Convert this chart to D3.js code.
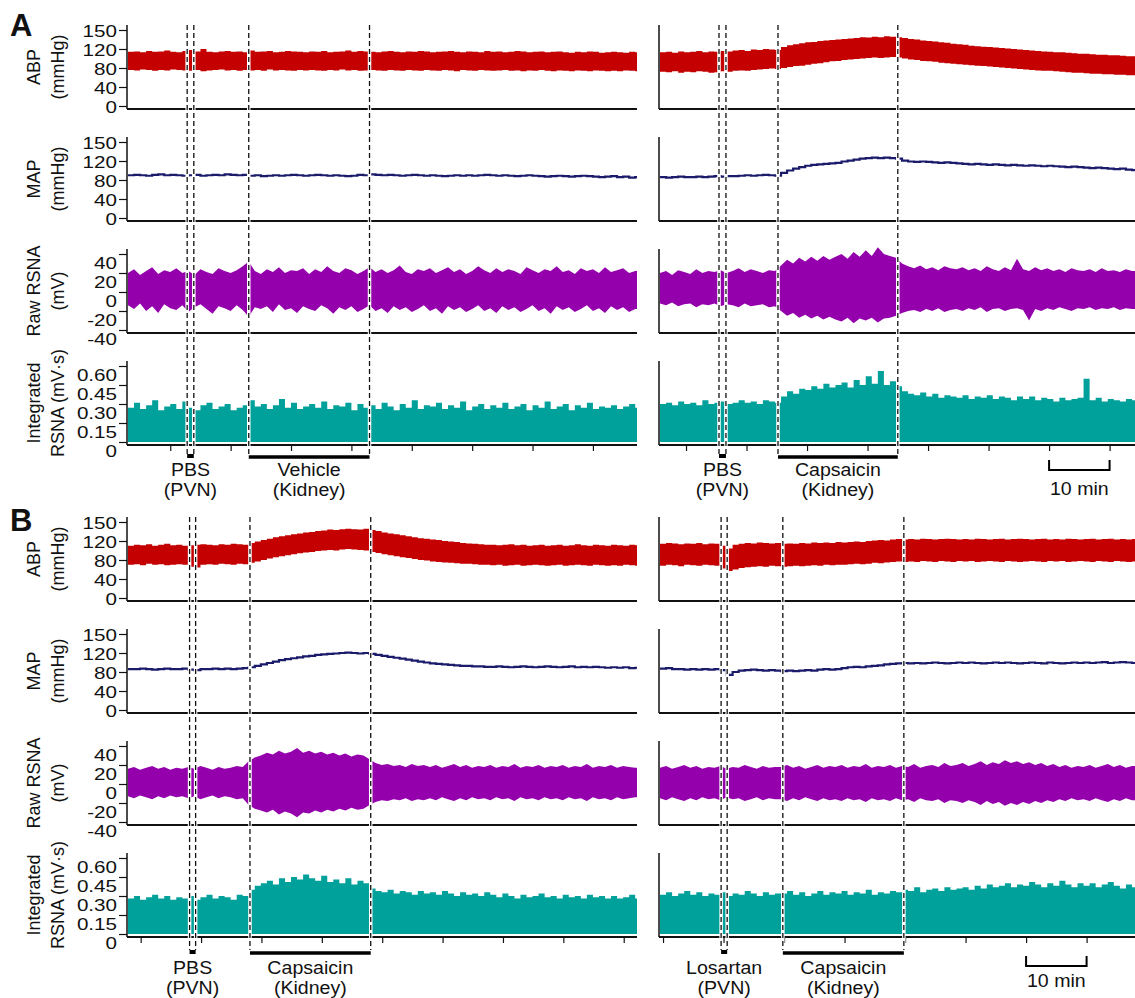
<!DOCTYPE html>
<html>
<head>
<meta charset="utf-8">
<script src="https://cdn.jsdelivr.net/npm/d3@7"></script>
<style>
  body { margin: 0; background: #fff; }
  svg text { font-family: Arial, "Liberation Sans", sans-serif; fill: #111; }
</style>
</head>
<body>
<svg id="fig" width="1135" height="998"></svg>
<script>
// ── Channel axes ────────────────────────────────────────────────────────────
// ABP / MAP ticks sit evenly spaced, the top one is printed "150" in the original.
var pressureTicks  = [0, 40, 80, 120, 160];
var pressureLabels = ["0", "40", "80", "120", "150"];
var rawTicks       = [-40, -20, 0, 20, 40];
var rawLabels      = ["-40", "-20", "0", "20", "40"];
var intTicks       = [0, 0.15, 0.30, 0.45, 0.60];
var intLabels      = ["0", "0.15", "0.30", "0.45", "0.60"];

// ── Traces, one value per minute ────────────────────────────────────────────
// A, left: PBS (PVN) then vehicle (kidney)
var abpHiAL = [114,115,113,116,114,115,117,114,113,116, 118,115,120,114,113,115,116,114,115,113,
  117,114,115,116,113,114,116,115,114,113, 115,114,116,113,114,115,117,114,116,115,
  114,113,115,116,114,113,115,114,116,115, 113,114,115,116,114,113,115,114,113,116,
  114,115,113,114,116,115,113,114,115,113, 114,115,113,112,114,113,115,114,112,113, 114,113,112,114,113];
var abpLoAL = [76,75,77,76,74,76,75,77,76,75, 74,76,73,75,76,77,75,76,74,76,
  75,76,74,77,75,76,75,74,76,75, 76,75,74,76,75,77,75,76,74,75,
  76,75,74,76,75,74,76,75,74,76, 75,74,76,75,73,76,75,74,76,75,
  74,75,76,74,75,73,75,74,76,74, 73,75,74,73,75,74,73,75,74,73, 74,73,75,74,73];
var mapAL = [90,91,90,89,91,92,90,91,90,89, 90,91,89,90,91,90,92,91,90,91,
  89,90,88,89,90,89,90,91,90,89, 90,91,90,89,90,89,88,89,91,90,
  92,91,90,91,90,89,90,91,90,89, 90,89,88,89,90,89,90,89,90,91,
  90,89,90,89,88,89,90,89,88,87, 88,89,88,87,88,89,88,87,86,87, 88,86,87,85,86];
var rawHiAL = [20,24,18,22,26,19,23,21,25,20, 22,18,24,21,19,25,22,20,23,27,
  32,22,19,24,21,26,20,23,22,25, 19,24,21,27,22,20,25,23,19,22,
  26,21,24,20,23,28,21,19,24,22, 25,20,23,26,21,24,19,22,27,23,
  20,25,21,24,22,19,26,23,20,24, 22,27,21,23,19,25,22,24,20,26, 21,23,25,20,22];
var rawLoAL = [-14,-18,-12,-20,-15,-22,-13,-17,-19,-14, -21,-16,-13,-18,-23,-15,-17,-20,-14,-19,
  -26,-16,-18,-15,-21,-13,-19,-17,-22,-15, -18,-20,-14,-17,-23,-16,-19,-15,-21,-18,
  -14,-20,-17,-22,-15,-19,-16,-21,-18,-14, -20,-17,-23,-15,-19,-16,-21,-18,-14,-20,
  -17,-22,-15,-19,-16,-21,-18,-14,-20,-17, -23,-15,-19,-16,-21,-18,-14,-20,-17,-22, -15,-19,-16,-21,-18];
var intAL = [.27,.31,.26,.29,.33,.25,.28,.30,.26,.32, .27,.25,.29,.31,.26,.28,.30,.25,.27,.29,
  .33,.28,.30,.26,.29,.34,.27,.31,.26,.28, .30,.27,.32,.26,.29,.28,.31,.25,.30,.27,
  .29,.26,.31,.28,.25,.30,.27,.33,.26,.29, .28,.31,.26,.29,.27,.32,.25,.28,.30,.26,
  .29,.27,.31,.26,.28,.30,.25,.29,.27,.32, .26,.28,.30,.25,.29,.27,.31,.26,.28,.27, .29,.26,.28,.30,.27];

// A, right: PBS (PVN) then capsaicin (kidney)
var abpHiAR = [113,114,112,115,113,114,116,113,115,114, 116,115,117,118,116,119,118,120,119,118,
  124,128,130,132,134,135,137,138,139,140, 141,142,143,145,144,146,145,147,146,145,
  143,141,140,138,137,136,134,133,131,130, 129,127,126,125,124,123,122,121,120,119,
  118,117,116,115,114,113,113,112,111,110, 110,109,108,108,107,107,106,105,105];
var abpLoAR = [72,71,73,70,72,71,73,72,70,71, 73,72,74,75,74,76,77,78,79,78,
  80,82,84,85,87,89,90,92,94,95, 97,98,99,100,101,102,101,102,103,102,
  100,98,97,95,94,93,91,90,89,88, 87,86,85,84,83,82,81,80,79,78,
  77,76,75,74,74,73,72,71,70,70, 69,68,68,67,67,66,66,65,65];
var mapAR = [86,85,86,87,86,86,87,86,87,88, 87,88,88,89,90,89,90,91,90,89,
  95,100,104,107,110,112,113,114,115,116, 119,121,123,125,126,127,126,127,126,125,
  121,119,118,119,118,117,116,117,116,115, 114,113,114,113,112,113,112,111,112,111,
  110,111,110,109,110,109,108,107,108,107, 106,105,106,105,104,103,104,102,101];
var rawHiAR = [20,22,18,23,21,19,24,20,22,21, 23,20,22,25,21,24,22,20,23,22,
  28,34,30,36,32,37,33,38,34,37, 40,35,42,37,44,38,47,40,38,36,
  30,27,25,28,24,26,23,27,25,24, 26,23,25,22,27,24,22,26,23,35,
  24,22,26,23,25,22,24,21,25,23, 22,24,21,25,22,23,21,24,22];
var rawLoAR = [-12,-14,-11,-15,-13,-12,-16,-13,-14,-12, -15,-13,-14,-16,-12,-15,-14,-13,-16,-15,
  -20,-25,-22,-27,-24,-28,-25,-29,-26,-29, -31,-27,-33,-28,-30,-27,-32,-28,-27,-25,
  -22,-20,-19,-21,-18,-20,-17,-21,-19,-18, -20,-17,-19,-16,-21,-18,-17,-20,-18,-17,
  -19,-30,-18,-20,-17,-19,-16,-18,-20,-17, -18,-16,-19,-17,-18,-16,-19,-17,-18];
var intAR = [.30,.31,.29,.32,.30,.31,.29,.33,.30,.31, .32,.30,.31,.33,.31,.32,.30,.33,.32,.31,
  .36,.40,.38,.42,.41,.44,.42,.46,.43,.45, .47,.43,.49,.45,.52,.46,.56,.45,.48,.44,
  .40,.38,.37,.39,.36,.38,.35,.37,.36,.35, .37,.34,.36,.35,.37,.34,.36,.35,.33,.36,
  .34,.36,.33,.35,.34,.32,.35,.33,.34,.35, .50,.33,.35,.32,.34,.33,.32,.34,.33];

// B, left: PBS (PVN) then capsaicin (kidney)
var abpHiBL = [110,112,111,113,110,112,114,111,112,110, 111,112,113,112,111,113,112,114,113,112,
  116,119,122,125,128,130,132,134,136,138, 139,141,142,144,143,145,146,145,144,146,
  143,141,138,136,134,132,130,128,126,125, 123,122,120,119,118,116,115,114,113,112,
  112,111,112,113,111,112,110,111,112,110, 111,112,110,111,113,111,110,112,111,110, 112,111,110,112,111];
var abpLoBL = [70,71,69,72,70,71,69,70,71,70, 66,64,70,71,70,72,71,70,72,71,
  74,77,80,83,86,88,90,92,94,96, 97,99,100,101,100,102,103,102,101,100,
  97,95,92,90,88,86,84,82,80,79, 77,76,75,74,73,72,72,71,70,70,
  69,70,68,69,70,68,69,70,69,68, 69,70,68,69,70,69,68,70,69,68, 69,68,70,69,68];
var mapBL = [86,86,87,86,85,86,87,86,86,87, 85,84,86,86,87,86,87,86,87,88,
  90,93,96,99,102,105,107,109,111,113, 114,116,117,118,119,120,121,120,119,120,
  118,116,114,112,110,108,106,104,102,100, 98,97,96,95,94,93,93,92,92,91,
  91,92,91,90,91,92,91,90,91,92, 91,90,91,92,90,91,90,91,90,89, 90,89,90,88,89];
var rawHiBL = [16,18,15,17,19,16,18,15,17,16, 18,16,19,17,15,18,16,17,19,18,
  24,28,30,33,31,35,32,34,38,33, 35,32,34,31,33,30,32,29,31,30,
  26,22,20,21,19,20,18,21,19,20, 18,20,17,19,21,18,20,17,19,18,
  20,17,19,18,21,17,19,18,20,17, 19,18,20,17,19,18,21,17,19,18, 20,17,19,18,17];
var rawLoBL = [-13,-15,-12,-14,-16,-13,-15,-12,-14,-13, -15,-13,-16,-14,-12,-15,-13,-14,-16,-15,
  -22,-26,-28,-30,-27,-32,-29,-31,-35,-30, -31,-28,-30,-27,-29,-26,-28,-25,-27,-26,
  -22,-19,-17,-18,-16,-17,-15,-18,-16,-17, -15,-17,-14,-16,-18,-15,-17,-14,-16,-15,
  -17,-14,-16,-15,-18,-14,-16,-15,-17,-14, -16,-15,-17,-14,-16,-15,-18,-14,-16,-15, -17,-14,-16,-15,-14];
var intBL = [.28,.30,.27,.29,.31,.28,.30,.27,.29,.28, .30,.27,.29,.31,.28,.30,.29,.27,.31,.30,
  .35,.38,.40,.42,.39,.44,.41,.45,.43,.47, .44,.42,.46,.41,.43,.40,.44,.39,.42,.40,
  .36,.34,.33,.35,.32,.34,.33,.31,.34,.32, .33,.31,.34,.32,.30,.33,.31,.32,.30,.33,
  .31,.29,.32,.30,.28,.31,.29,.30,.32,.29, .30,.28,.31,.29,.30,.28,.31,.29,.30,.28, .30,.28,.29,.31,.28];

// B, right: losartan (PVN) then capsaicin (kidney)
var abpHiBR = [114,116,115,113,115,114,116,113,115,114, 110,104,112,114,116,115,117,116,115,116,
  114,115,114,116,115,117,116,117,116,118, 117,118,119,118,120,121,122,121,123,124,
  123,124,123,125,124,123,124,125,124,123, 124,123,125,124,123,124,125,123,124,125,
  124,123,124,125,123,124,123,125,124,123, 124,125,123,124,125,123,124,123,124];
var abpLoBR = [68,70,69,67,70,69,68,70,69,68, 62,57,60,63,65,66,67,66,68,67,
  66,67,68,67,68,69,68,70,69,70, 70,71,72,71,72,74,73,75,76,77,
  76,77,76,78,77,76,78,77,76,78, 77,78,76,77,78,77,76,78,77,76,
  77,78,77,76,78,77,78,76,77,78, 77,76,78,77,76,78,77,76,77];
var mapBR = [87,88,86,86,85,86,85,86,85,86, 84,74,80,83,84,85,84,83,84,83,
  82,83,82,83,84,83,85,86,85,86, 88,90,91,90,92,93,94,96,97,98,
  99,98,99,98,99,100,99,98,99,100, 99,100,99,98,99,100,99,100,99,98,
  99,100,99,98,100,99,98,99,100,99, 100,99,100,101,99,100,101,100,99];
var rawHiBR = [17,19,16,18,20,17,19,16,18,17, 19,16,18,17,20,18,16,19,17,18,
  18,20,17,19,16,18,20,17,19,18, 20,17,19,18,21,17,19,18,20,17,
  19,18,21,17,19,20,18,22,19,20, 22,19,21,24,20,23,21,25,22,24,
  21,23,20,22,19,21,18,20,17,19, 18,20,17,19,21,18,20,17,19];
var rawLoBR = [-15,-17,-14,-16,-18,-15,-17,-14,-16,-15, -17,-14,-16,-15,-18,-16,-14,-17,-15,-16,
  -16,-18,-15,-17,-14,-16,-18,-15,-17,-16, -18,-15,-17,-16,-19,-15,-17,-16,-18,-15,
  -17,-16,-19,-15,-17,-18,-16,-20,-17,-18, -20,-17,-19,-22,-18,-21,-19,-23,-20,-22,
  -19,-21,-18,-20,-17,-19,-16,-18,-15,-17, -16,-18,-15,-17,-19,-16,-18,-15,-17];
var intBR = [.31,.33,.30,.32,.34,.31,.33,.30,.32,.31, .33,.30,.32,.31,.34,.32,.30,.33,.31,.32,
  .32,.34,.31,.33,.30,.32,.34,.31,.33,.32, .34,.31,.33,.32,.35,.31,.33,.32,.34,.33,
  .35,.34,.37,.33,.35,.36,.34,.37,.35,.36, .37,.35,.38,.36,.39,.37,.38,.40,.37,.39,
  .38,.41,.39,.37,.40,.38,.42,.39,.37,.40, .38,.40,.37,.39,.41,.38,.36,.39,.37];

// ── Timing (minutes from the start of each recording window) ─────────────────
var spanAL = 84.3, spanAR = 78.5, spanBL = 84.3, spanBR = 78.5;
var ticksAL = [7, 17, 27, 37, 47, 57, 67, 77];
var ticksAR = [4.3, 14.3, 24.3, 34.3, 44.3, 54.3, 64.3, 74.3];
var ticksBL = [2.1, 12.1, 22.1, 32.1, 42.1, 52.1, 62.1, 72.1, 82.1];
var ticksBR = [0.5, 10.5, 20.5, 30.5, 40.5, 50.5, 60.5, 70.5];
var pvnAL = [9.8, 10.9],  kidneyAL = [20.0, 40.0];
var pvnAR = [9.75, 10.9], kidneyAR = [19.5, 39.3];
var pvnBL = [10.2, 11.2], kidneyBL = [20.2, 40.2];
var pvnBR = [10.1, 11.1], kidneyBR = [20.3, 40.3];
var scaleBarAR = [64.3, 74.3], scaleBarBR = [60.5, 70.5];

// ── Layout ───────────────────────────────────────────────────────────────────
var COLORS = { abp: "#c40000", map: "#1b1b6b", raw: "#9500ad", int: "#00a09b" };
var SUB_H = 84, SUB_GAP = 112;
var TICK_FONT = 16.5, TICK_STRETCH = 1.25;   // the original lettering is set wide
var NOTE_FONT = 17.5, NOTE_STRETCH = 1.12;
var ROWS = [
  { letter: "A", top: 25,  letterY: 36,  barDy: 11, text1Dy: 31, text2Dy: 51 },
  { letter: "B", top: 517, letterY: 531, barDy: 15, text1Dy: 37, text2Dy: 57 }
];

var CHANNELS = [
  { key: "abp", title: ["ABP", "(mmHg)"],             domain: [0, 160],  ticks: pressureTicks, labels: pressureLabels, labelDy: 0 },
  { key: "map", title: ["MAP", "(mmHg)"],             domain: [0, 160],  ticks: pressureTicks, labels: pressureLabels, labelDy: 0 },
  { key: "raw", title: ["Raw RSNA", "(mV)"],          domain: [-40, 40], ticks: rawTicks,      labels: rawLabels,      labelDy: 8 },
  { key: "int", title: ["Integrated", "RSNA (mV·s)"], domain: [0, 0.6],  ticks: intTicks,      labels: intLabels,      labelDy: 8 }
];

var PANELS = [
  { row: 0, x0: 127, x1: 637,  span: spanAL, ticks: ticksAL, pvn: pvnAL, kidney: kidneyAL, leftAxis: true,
    pvnText: ["PBS", "(PVN)"], kidneyText: ["Vehicle", "(Kidney)"],
    abpHi: abpHiAL, abpLo: abpLoAL, map: mapAL, rawHi: rawHiAL, rawLo: rawLoAL, int: intAL },
  { row: 0, x0: 659, x1: 1135, span: spanAR, ticks: ticksAR, pvn: pvnAR, kidney: kidneyAR, scaleBar: scaleBarAR,
    pvnText: ["PBS", "(PVN)"], kidneyText: ["Capsaicin", "(Kidney)"],
    abpHi: abpHiAR, abpLo: abpLoAR, map: mapAR, rawHi: rawHiAR, rawLo: rawLoAR, int: intAR },
  { row: 1, x0: 127, x1: 637,  span: spanBL, ticks: ticksBL, pvn: pvnBL, kidney: kidneyBL, leftAxis: true,
    pvnText: ["PBS", "(PVN)"], kidneyText: ["Capsaicin", "(Kidney)"],
    abpHi: abpHiBL, abpLo: abpLoBL, map: mapBL, rawHi: rawHiBL, rawLo: rawLoBL, int: intBL },
  { row: 1, x0: 659, x1: 1135, span: spanBR, ticks: ticksBR, pvn: pvnBR, kidney: kidneyBR, scaleBar: scaleBarBR,
    pvnText: ["Losartan", "(PVN)"], kidneyText: ["Capsaicin", "(Kidney)"],
    abpHi: abpHiBR, abpLo: abpLoBR, map: mapBR, rawHi: rawHiBR, rawLo: rawLoBR, int: intBR }
];

var svg = d3.select("#fig");

// one-minute samples; the last one is carried to the end of the window
function steps(cols, span) {
  var n = cols[0].length, out = [];
  for (var i = 0; i < n; i++) out.push({ t: i, v: cols.map(function (c) { return c[i]; }) });
  out.push({ t: span, v: out[n - 1].v });
  return out;
}

function note(parent, x, y, str) {
  parent.append("text")
    .attr("transform", "translate(" + x + "," + y + ") scale(" + NOTE_STRETCH + ",1)")
    .attr("text-anchor", "middle").attr("font-size", NOTE_FONT).text(str);
}

ROWS.forEach(function (r) {
  svg.append("text").attr("x", 10).attr("y", r.letterY)
    .attr("font-size", 31).attr("font-weight", "bold").text(r.letter);
});

PANELS.forEach(function (p) {
  var row = ROWS[p.row];
  var x = d3.scaleLinear().domain([0, p.span]).range([p.x0 + 1, p.x1]);
  var g = svg.append("g");

  CHANNELS.forEach(function (ch, ci) {
    var yT = row.top + ci * SUB_GAP, yB = yT + SUB_H;
    var y = d3.scaleLinear().domain(ch.domain).range([yT + 81, yT + 5]);
    var sg = g.append("g");

    if (ch.key === "abp" || ch.key === "raw") {
      var hi = p[ch.key + "Hi"], lo = p[ch.key + "Lo"];
      sg.append("path")
        .datum(steps([lo, hi], p.span))
        .attr("fill", COLORS[ch.key])
        .attr("d", d3.area().curve(ch.key === "abp" ? d3.curveStepAfter : d3.curveLinear)
          .x(function (d) { return x(d.t); })
          .y0(function (d) { return y(d.v[0]); })
          .y1(function (d) { return y(d.v[1]); }));
    } else if (ch.key === "map") {
      sg.append("path")
        .datum(steps([p.map], p.span))
        .attr("fill", "none").attr("stroke", COLORS.map).attr("stroke-width", 2.2)
        .attr("d", d3.line().curve(d3.curveStepAfter)
          .x(function (d) { return x(d.t); })
          .y(function (d) { return y(d.v[0]); }));
    } else {
      sg.append("path")
        .datum(steps([p.int], p.span))
        .attr("fill", COLORS.int)
        .attr("d", d3.area().curve(d3.curveStepAfter)
          .x(function (d) { return x(d.t); })
          .y0(y(0))
          .y1(function (d) { return y(d.v[0]); }));
    }

    // axes
    sg.append("line").attr("x1", p.x0).attr("x2", p.x0).attr("y1", yT).attr("y2", yB)
      .attr("stroke", "#111").attr("stroke-width", 1.5);
    sg.append("line").attr("x1", p.x0).attr("x2", p.x1).attr("y1", yB).attr("y2", yB)
      .attr("stroke", "#111").attr("stroke-width", 2);

    if (p.leftAxis) {
      var ax = sg.append("g").attr("transform", "translate(" + p.x0 + ",0)")
        .call(d3.axisLeft(y).tickValues(ch.ticks).tickSize(8).tickPadding(2).tickSizeOuter(0)
          .tickFormat(function (d, i) { return ch.labels[i]; }));
      ax.select(".domain").remove();
      ax.selectAll(".tick line").attr("stroke", "#111").attr("stroke-width", 1.2);
      ax.selectAll(".tick text")
        .attr("font-size", TICK_FONT).attr("fill", "#111")
        .attr("font-family", "Arial, 'Liberation Sans', sans-serif")
        .attr("x", -10 / TICK_STRETCH)
        .attr("transform", "scale(" + TICK_STRETCH + ",1)")
        .attr("dy", (ch.labelDy + 6) + "px");

      var yc = yT + SUB_H / 2;
      ch.title.forEach(function (line, li) {
        var bx = li === 0 ? 40 : 64;
        sg.append("text").attr("transform", "translate(" + bx + "," + yc + ") rotate(-90)")
          .attr("text-anchor", "middle").attr("font-size", 18).text(line);
      });
    }

    if (ci === CHANNELS.length - 1) {
      var bx2 = sg.append("g").attr("transform", "translate(0," + yB + ")")
        .call(d3.axisBottom(x).tickValues(p.ticks).tickSize(6).tickSizeOuter(0).tickFormat(""));
      bx2.select(".domain").remove();
      bx2.selectAll(".tick line").attr("stroke", "#111").attr("stroke-width", 1.2);
    }
  });

  // event markers: dashed guides over all four channels
  var yTop = row.top, yBot = row.top + 3 * SUB_GAP + SUB_H + row.barDy - 2;
  var marks = [p.pvn[0], p.pvn[1], p.kidney[0], p.kidney[1]];
  g.selectAll("line.halo").data(marks).join("line").attr("class", "halo")
    .attr("x1", x).attr("x2", x).attr("y1", yTop).attr("y2", yBot)
    .attr("stroke", "#fff").attr("stroke-width", 3.5);
  g.selectAll("line.guide").data(marks).join("line").attr("class", "guide")
    .attr("x1", x).attr("x2", x).attr("y1", yTop).attr("y2", yBot)
    .attr("stroke", "#111").attr("stroke-width", 1.3).attr("stroke-dasharray", "5,3");

  var yInt = row.top + 3 * SUB_GAP + SUB_H;
  var barY = yInt + row.barDy;
  g.append("line").attr("x1", x(p.pvn[0])).attr("x2", x(p.pvn[1])).attr("y1", barY).attr("y2", barY)
    .attr("stroke", "#000").attr("stroke-width", 4);
  g.append("line").attr("x1", x(p.kidney[0])).attr("x2", x(p.kidney[1])).attr("y1", barY + 1).attr("y2", barY + 1)
    .attr("stroke", "#000").attr("stroke-width", 3.5);

  [[p.pvn, p.pvnText], [p.kidney, p.kidneyText]].forEach(function (a) {
    var cx = x((a[0][0] + a[0][1]) / 2);
    note(g, cx, yInt + row.text1Dy, a[1][0]);
    note(g, cx, yInt + row.text2Dy, a[1][1]);
  });

  if (p.scaleBar) {
    var sx0 = x(p.scaleBar[0]), sx1 = x(p.scaleBar[1]);
    var sy0 = yInt + row.barDy + 4, sy1 = sy0 + 10;
    g.append("path").attr("fill", "none").attr("stroke", "#000").attr("stroke-width", 2)
      .attr("d", "M" + sx0 + "," + sy0 + "V" + sy1 + "H" + sx1 + "V" + sy0);
    note(g, (sx0 + sx1) / 2, yInt + 50, "10 min");
  }
});
</script>
</body>
</html>
